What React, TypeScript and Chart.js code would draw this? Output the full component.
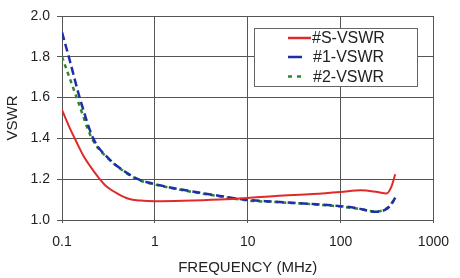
import React, { useEffect, useRef } from "react";
import { Chart, registerables } from "chart.js";

Chart.register(...registerables);

const FONT = "'Liberation Sans', Arial, Helvetica, sans-serif";

const xTicks = [0.1, 1, 10, 100, 1000];
const seriesLabels = ["#S-VSWR", "#1-VSWR", "#2-VSWR"];

const sFreq = [0.1, 0.12, 0.144, 0.17, 0.2, 0.25, 0.3, 0.4, 0.52, 0.7, 1, 2, 5, 10, 20, 50, 100, 166, 250, 312, 350, 388];
const sVswr = [1.54, 1.455, 1.38, 1.315, 1.265, 1.205, 1.165, 1.128, 1.104, 1.095, 1.092, 1.094, 1.1, 1.108, 1.118, 1.127, 1.137, 1.146, 1.137, 1.13, 1.16, 1.224];

const b1Freq = [0.1, 0.12, 0.155, 0.217, 0.32, 0.45, 0.66, 1, 2, 5, 10, 20, 50, 100, 150, 239, 300, 350, 388];
const b1Vswr = [1.92, 1.79, 1.6, 1.4, 1.3, 1.245, 1.2, 1.176, 1.148, 1.118, 1.098, 1.09, 1.078, 1.068, 1.058, 1.04, 1.05, 1.075, 1.11];

const g2Freq = [0.1, 0.12, 0.144, 0.21, 0.32, 0.45, 0.66, 1, 2, 5, 10, 20, 50, 100, 150, 239, 300, 350, 388];
const g2Vswr = [1.8, 1.7, 1.6, 1.4, 1.298, 1.243, 1.198, 1.174, 1.146, 1.116, 1.096, 1.088, 1.077, 1.066, 1.056, 1.042, 1.052, 1.078, 1.112];

const toPoints = (xs: number[], ys: number[]) => xs.map((x, i) => ({ x, y: ys[i] }));

const legendPlugin = {
  id: "boxLegend",
  afterDatasetsDraw(chart: any) {
    const ctx = chart.ctx;
    ctx.save();
    ctx.fillStyle = "#ffffff";
    ctx.fillRect(254.5, 28.5, 163, 58);
    ctx.strokeStyle = "#666666";
    ctx.lineWidth = 1;
    ctx.strokeRect(254.5, 28.5, 163, 58);
    const rows = [38, 57, 76.5];
    chart.data.datasets.forEach((ds: any, i: number) => {
      ctx.beginPath();
      ctx.strokeStyle = ds.borderColor;
      ctx.lineWidth = 2.5;
      ctx.setLineDash(i === 2 ? [4, 5] : []);
      ctx.moveTo(288, rows[i]);
      ctx.lineTo(i === 0 ? 311 : 302, rows[i]);
      ctx.stroke();
      ctx.setLineDash([]);
      ctx.fillStyle = "#222222";
      ctx.font = `16px ${FONT}`;
      ctx.textBaseline = "middle";
      ctx.textAlign = "left";
      ctx.fillText(ds.label, i === 0 ? 312 : 313, rows[i] + 1);
    });
    ctx.restore();
  },
};

export default function App() {
  const ref = useRef<HTMLCanvasElement | null>(null);
  useEffect(() => {
    document.body.style.margin = "0";
    if (!ref.current) return;
    const chart = new Chart(ref.current, {
      type: "line",
      data: {
        datasets: [
          {
            label: seriesLabels[0],
            data: toPoints(sFreq, sVswr),
            borderColor: "#e02a2a",
            borderWidth: 2,
            pointRadius: 0,
            cubicInterpolationMode: "monotone",
          },
          {
            label: seriesLabels[1],
            data: toPoints(b1Freq, b1Vswr),
            borderColor: "#1f2fa8",
            borderWidth: 2.5,
            borderDash: [8, 4],
            pointRadius: 0,
            cubicInterpolationMode: "monotone",
          },
          {
            label: seriesLabels[2],
            data: toPoints(g2Freq, g2Vswr),
            borderColor: "#2a8a2a",
            borderWidth: 2.5,
            borderDash: [4, 4],
            pointRadius: 0,
            cubicInterpolationMode: "monotone",
          },
        ],
      },
      options: {
        animation: false,
        responsive: false,
        maintainAspectRatio: false,
        layout: { padding: { top: 16, right: 18, left: 0, bottom: 0 } },
        plugins: { legend: { display: false }, tooltip: { enabled: false } },
        scales: {
          x: {
            type: "logarithmic",
            min: 0.1,
            max: 1000,
            afterBuildTicks: (scale: any) => {
              scale.ticks = xTicks.map((v) => ({ value: v }));
            },
            afterFit: (scale: any) => {
              scale.height = 58;
            },
            ticks: {
              autoSkip: false,
              maxRotation: 0,
              padding: 11,
              color: "#222",
              font: { family: FONT, size: 14 },
              callback: (v: any) => String(v),
            },
            grid: { color: "#555", lineWidth: 1, tickLength: 3 },
            border: { color: "#555", width: 1 },
            title: {
              display: true,
              text: "FREQUENCY (MHz)",
              color: "#222",
              font: { family: FONT, size: 15 },
              padding: { top: 0, bottom: 1 },
            },
          },
          y: {
            min: 1.0,
            max: 2.0,
            afterFit: (scale: any) => {
              scale.width = 62;
            },
            ticks: {
              stepSize: 0.2,
              padding: 7,
              color: "#222",
              font: { family: FONT, size: 14 },
              callback: (v: any) => Number(v).toFixed(1),
            },
            grid: { color: "#555", lineWidth: 1, tickLength: 5 },
            border: { color: "#555", width: 1 },
            title: {
              display: true,
              text: "VSWR",
              color: "#222",
              font: { family: FONT, size: 15 },
              padding: { top: 4, bottom: 0 },
            },
          },
        },
      },
      plugins: [legendPlugin],
    } as any);
    return () => chart.destroy();
  }, []);
  return (
    <div style={{ position: "absolute", left: 0, top: 0, width: 460, height: 278 }}>
      <canvas ref={ref} width={460} height={278} style={{ width: 460, height: 278 }} />
    </div>
  );
}
